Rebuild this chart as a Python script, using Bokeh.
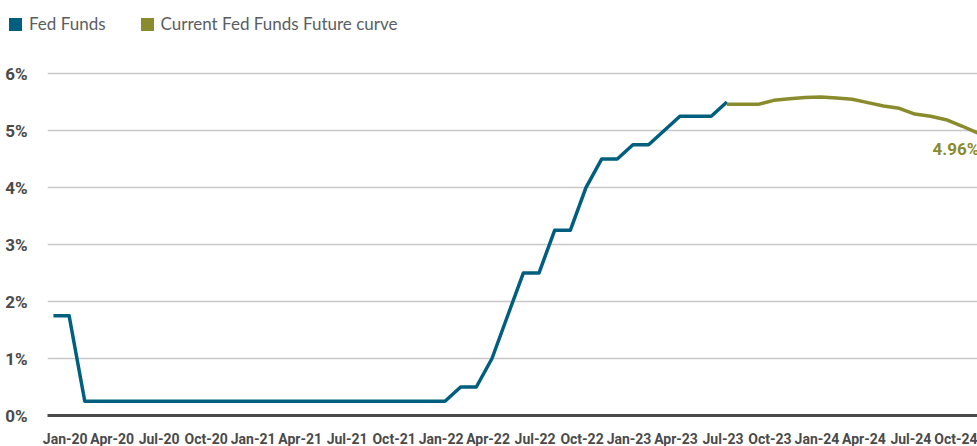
import pandas as pd
from bokeh.plotting import figure
from bokeh.layouts import column
from bokeh.models import (Range1d, FixedTicker, PrintfTickFormatter,
                          ColumnDataSource, Div)
from bokeh.core.properties import value
from bokeh.embed import file_html
from bokeh.resources import INLINE

# ---------------- data ----------------
months = list(pd.date_range("2020-01-01", "2024-12-01", freq="MS").strftime("%Y-%m"))

fed_funds = [1.75, 1.75, 0.25, 0.25, 0.25, 0.25, 0.25, 0.25, 0.25, 0.25,
             0.25, 0.25, 0.25, 0.25, 0.25, 0.25, 0.25, 0.25, 0.25, 0.25,
             0.25, 0.25, 0.25, 0.25, 0.25, 0.25, 0.50, 0.50, 1.00, 1.75,
             2.50, 2.50, 3.25, 3.25, 4.00, 4.50, 4.50, 4.75, 4.75, 5.00,
             5.25, 5.25, 5.25, 5.50]
fed_start = "2020-01"

future_curve = [5.46, 5.46, 5.46, 5.53, 5.56, 5.58, 5.59, 5.57, 5.55, 5.49,
                5.43, 5.39, 5.29, 5.25, 5.19, 5.08, 4.96]
future_start = "2023-08"

tick_months = ["2020-01", "2020-04", "2020-07", "2020-10", "2021-01", "2021-04",
               "2021-07", "2021-10", "2022-01", "2022-04", "2022-07", "2022-10",
               "2023-01", "2023-04", "2023-07", "2023-10", "2024-01", "2024-04",
               "2024-07", "2024-10"]
tick_labels = ["Jan-20", "Apr-20", "Jul-20", "Oct-20", "Jan-21", "Apr-21",
               "Jul-21", "Oct-21", "Jan-22", "Apr-22", "Jul-22", "Oct-22",
               "Jan-23", "Apr-23", "Jul-23", "Oct-23", "Jan-24", "Apr-24",
               "Jul-24", "Oct-24"]
y_ticks = [0, 1, 2, 3, 4, 5, 6]
series_names = ["Fed Funds", "Current Fed Funds Future curve"]

# ---------------- style ----------------
BLUE = "#005F7E"
GREEN = "#8A8B2D"
FONT = "Roboto"
LEGEND_FONT = "Lato"
LABEL_SHIFT = 0.75
TICK_COLOR = "#4a4a4a"

idx = {m: i for i, m in enumerate(months)}
fed_x = [idx[fed_start] + i for i in range(len(fed_funds))]
fut_x = [idx[future_start] + i for i in range(len(future_curve))]

# ---------------- legend strip (HTML) ----------------
def swatch(color, lead):
    return (f'<span style="display:inline-block;width:13px;height:13px;'
            f'background:{color};margin-left:{lead}px;margin-right:7px;"></span>')

legend_html = (
    f'<div style="display:flex;align-items:center;height:48px;'
    f'font-family:{LEGEND_FONT};font-size:17px;color:#5a5e63;white-space:nowrap;">'
    f'{swatch(BLUE, 9)}<span>{series_names[0]}</span>'
    f'{swatch(GREEN, 35)}<span>{series_names[1]}</span></div>'
)
lg = Div(text=legend_html, width=977, height=48, margin=(0, 0, 0, 0))

# ---------------- main chart ----------------
p = figure(frame_width=930, frame_height=367, output_backend="svg",
           toolbar_location=None,
           x_range=Range1d(-0.38, 59.0), y_range=Range1d(0, 6.44),
           min_border_left=47, min_border_right=0, min_border_top=0,
           min_border_bottom=0)
p.outline_line_color = None
p.background_fill_color = "white"
p.border_fill_color = "white"

p.xgrid.visible = False
p.ygrid.grid_line_color = "#c8c8c8"
p.ygrid.grid_line_width = 1.5
p.ygrid.ticker = FixedTicker(ticks=y_ticks)

p.yaxis.ticker = FixedTicker(ticks=y_ticks)
p.yaxis.formatter = PrintfTickFormatter(format="%d%%")
p.yaxis.axis_line_color = None
p.yaxis.major_tick_line_color = None
p.yaxis.minor_tick_line_color = None
p.yaxis.major_label_standoff = 14
p.yaxis.major_label_text_font = FONT
p.yaxis.major_label_text_font_style = "bold"
p.yaxis.major_label_text_font_size = "17px"
p.yaxis.major_label_text_color = TICK_COLOR

tick_pos = [idx[m] + LABEL_SHIFT for m in tick_months]
p.xaxis.ticker = FixedTicker(ticks=tick_pos)
p.xaxis.major_label_overrides = {t: l for t, l in zip(tick_pos, tick_labels)}
p.xaxis.axis_line_color = TICK_COLOR
p.xaxis.axis_line_width = 3
p.xaxis.major_tick_line_color = None
p.xaxis.minor_tick_line_color = None
p.xaxis.major_label_standoff = 9
p.xaxis.major_label_text_font = FONT
p.xaxis.major_label_text_font_style = "bold"
p.xaxis.major_label_text_font_size = "14px"
p.xaxis.major_label_text_color = TICK_COLOR

p.line(x=fed_x, y=fed_funds, line_color=BLUE, line_width=3.5, line_join="round")
p.line(x=fut_x, y=future_curve, line_color=GREEN, line_width=3.5, line_join="round")

last_src = ColumnDataSource(dict(x=[fut_x[-1]], y=[future_curve[-1]],
                                 t=[f"{future_curve[-1]:.2f}%"]))
p.text(x="x", y="y", text="t", source=last_src, text_align="left",
       text_baseline="middle", x_offset=-45, y_offset=16,
       text_font=value(FONT), text_font_style="bold", text_font_size="17px",
       text_color=GREEN)

open("out.html", "w").write(file_html(column(lg, p), INLINE))
